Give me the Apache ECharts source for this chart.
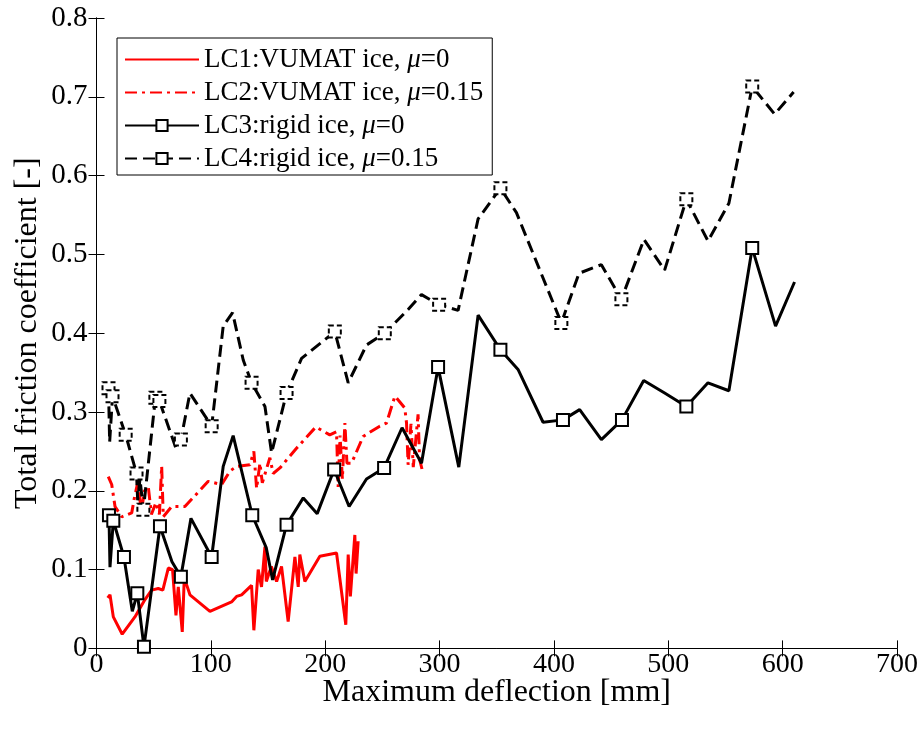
<!DOCTYPE html>
<html>
<head>
<meta charset="utf-8">
<script src="https://cdn.jsdelivr.net/npm/echarts@6/dist/echarts.min.js"></script>
<style>
html,body{margin:0;padding:0;background:#fff;}
#chart{width:921px;height:737px;}
</style>
</head>
<body>
<div id="chart"></div>
<script>
// ---- data ----
const seriesNames = ['LC1:VUMAT ice, μ=0', 'LC2:VUMAT ice, μ=0.15', 'LC3:rigid ice, μ=0', 'LC4:rigid ice, μ=0.15'];
const xTicks = [0, 100, 200, 300, 400, 500, 600, 700];
const yTicks = [0, 0.1, 0.2, 0.3, 0.4, 0.5, 0.6, 0.7, 0.8];

const lc1 = [[9.8,0.064],[11.8,0.068],[14.7,0.040],[22.5,0.018],[33.6,0.040],[42.4,0.062],[48.2,0.074],[54,0.076],[58,0.074],[62.8,0.102],[66.5,0.100],[69.5,0.042],[71.5,0.078],[75,0.021],[76.7,0.087],[79,0.080],[81.7,0.068],[99.2,0.047],[118.1,0.059],[122.5,0.066],[126.9,0.068],[135.6,0.080],[137.6,0.023],[141.4,0.100],[144.3,0.078],[147.3,0.129],[148.5,0.085],[152.9,0.104],[157.5,0.085],[161.8,0.104],[167.6,0.034],[173.5,0.116],[176.4,0.078],[177.8,0.119],[182.2,0.085],[195.3,0.117],[209.9,0.121],[218,0.030],[220.1,0.119],[222,0.066],[225.9,0.144],[227,0.095],[228.8,0.136]];

const lc2 = [[10.3,0.218],[13.3,0.208],[16.2,0.180],[22,0.167],[30.8,0.172],[33,0.190],[36.6,0.214],[39,0.172],[42,0.200],[45.3,0.205],[48,0.170],[52,0.185],[55,0.170],[57,0.231],[58.4,0.167],[65.7,0.180],[77.3,0.180],[97.7,0.212],[109.4,0.208],[116.7,0.225],[122.5,0.231],[134.1,0.233],[137.6,0.250],[140,0.203],[142.9,0.235],[145,0.210],[151.6,0.242],[154.5,0.222],[160.4,0.229],[174.9,0.254],[191.8,0.281],[204,0.271],[209.9,0.275],[211.3,0.205],[213,0.270],[215,0.215],[217.2,0.286],[219,0.235],[223,0.235],[233.2,0.269],[247.7,0.282],[253.6,0.286],[260.9,0.320],[264,0.315],[269.6,0.305],[271.1,0.286],[272.5,0.233],[275,0.285],[277,0.230],[281.2,0.297],[282.5,0.240],[285.6,0.222]];

const lc3 = [[10.9,0.169],[11.8,0.103],[14.7,0.162],[24,0.116],[31.3,0.047],[35.7,0.070],[41.5,0.002],[55.5,0.155],[66,0.110],[73.8,0.091],[82.6,0.165],[100.7,0.116],[110.8,0.231],[119.5,0.270],[136.2,0.169],[148.4,0.128],[154,0.087],[166.2,0.157],[180.8,0.191],[193,0.171],[207.8,0.227],[220.9,0.180],[236.1,0.215],[251.5,0.229],[267.2,0.280],[284.2,0.235],[298.7,0.357],[316.8,0.230],[333.7,0.423],[353.2,0.379],[368.6,0.354],[390.5,0.287],[407.9,0.290],[422.5,0.303],[441.5,0.265],[459.5,0.290],[478.5,0.340],[496.8,0.324],[515.8,0.307],[534.7,0.337],[553,0.327],[573.4,0.508],[593.8,0.409],[610.4,0.465]];
const lc3Marks = [0,2,3,5,6,7,9,11,14,17,20,23,26,29,32,35,38,41];

const lc4 = [[10.5,0.330],[11.5,0.262],[14,0.320],[25.5,0.271],[35,0.222],[36,0.188],[38,0.215],[41,0.176],[51.5,0.318],[55,0.314],[69.5,0.254],[73.8,0.265],[81.7,0.324],[100.7,0.282],[110.8,0.409],[119,0.426],[128.3,0.366],[135.6,0.337],[147.3,0.307],[153.1,0.248],[166.2,0.324],[179.3,0.368],[208.4,0.402],[220.1,0.337],[236.1,0.385],[252.1,0.400],[272.5,0.430],[284.2,0.449],[299.6,0.436],[316.2,0.429],[333.7,0.545],[353.2,0.584],[367.2,0.553],[406.5,0.413],[421.9,0.476],[441.5,0.487],[459,0.443],[478.7,0.519],[496.8,0.480],[515.8,0.570],[534.7,0.517],[553,0.565],[573.4,0.713],[593,0.678],[609.6,0.706]];
const lc4Marks = [0,2,3,4,7,8,9,11,13,17,20,22,25,28,31,33,36,39,42];

// ---- chart ----
const FONT = '"Liberation Serif", "Times New Roman", serif';
function withMarks(pts, marks) {
  return pts.map((p, i) => marks.indexOf(i) >= 0 ? {value: p} : {value: p, symbol: 'none'});
}
const chart = echarts.init(document.getElementById('chart'), null, {renderer: 'canvas'});
const axisCommon = {
  axisLine: {show: true, lineStyle: {color: '#000', width: 1}},
  axisTick: {show: true, inside: true, length: 8, lineStyle: {color: '#000', width: 1}},
  splitLine: {show: false}
};
const LW = 3;
const option = {
  backgroundColor: '#fff',
  animation: false,
  grid: {left: 96.5, right: 23.5, top: 18, bottom: 88.6, containLabel: false},
  legend: {
    orient: 'vertical', left: 117, top: 38,
    data: [
      {name: seriesNames[0], itemStyle: {opacity: 0}},
      {name: seriesNames[1], itemStyle: {opacity: 0}},
      {name: seriesNames[2]},
      {name: seriesNames[3]}
    ],
    backgroundColor: '#fff', borderColor: '#000', borderWidth: 1,
    padding: [8, 9, 3, 7],
    itemWidth: 74, itemHeight: 14, itemGap: 6,
    textStyle: {fontFamily: FONT, fontSize: 27, color: '#000', lineHeight: 22,
      rich: {i: {fontFamily: FONT, fontSize: 27, fontStyle: 'italic', color: '#000', lineHeight: 22}}},
    formatter: n => n.replace('μ', '{i|μ}')
  },
  xAxis: [
    Object.assign({type: 'value', min: 0, max: 700, interval: 100, position: 'bottom',
      name: 'Maximum deflection [mm]', nameLocation: 'middle', nameGap: 28, nameMoveOverlap: false,
      nameTextStyle: {fontFamily: FONT, fontSize: 32, color: '#000'},
      axisLabel: {fontFamily: FONT, fontSize: 28, color: '#000', margin: 2,
        formatter: v => xTicks.indexOf(v) >= 0 ? String(v) : ''}}, axisCommon),
    Object.assign({type: 'value', min: 0, max: 700, interval: 100, position: 'top',
      axisLabel: {show: false}}, axisCommon)
  ],
  yAxis: [
    Object.assign({type: 'value', min: 0, max: 0.8, interval: 0.1, position: 'left',
      name: 'Total friction coefficient [-]', nameLocation: 'middle', nameGap: 53, nameMoveOverlap: false,
      nameTextStyle: {fontFamily: FONT, fontSize: 32, color: '#000'},
      axisLabel: {fontFamily: FONT, fontSize: 29, color: '#000', margin: 9,
        formatter: v => { const t = yTicks.find(k => Math.abs(k - v) < 1e-6); return t === undefined ? '' : (t === 0 ? '0' : String(+t.toFixed(1))); }}}, axisCommon),
    Object.assign({type: 'value', min: 0, max: 0.8, interval: 0.1, position: 'right',
      axisLabel: {show: false}}, axisCommon)
  ],
  series: [
    {name: seriesNames[0], type: 'line', data: lc1, symbol: 'none', color: '#ff0000',
      lineStyle: {color: '#ff0000', width: LW, type: 'solid'}},
    {name: seriesNames[1], type: 'line', data: lc2, symbol: 'none', color: '#ff0000',
      lineStyle: {color: '#ff0000', width: LW, type: [12, 5, 3, 5]}},
    {name: seriesNames[2], type: 'line', data: withMarks(lc3, lc3Marks), symbol: 'emptyRect', symbolSize: 12,
      showAllSymbol: true, color: '#000',
      itemStyle: {color: '#000', borderColor: '#000', borderWidth: 3},
      lineStyle: {color: '#000', width: LW, type: 'solid'}},
    {name: seriesNames[3], type: 'line', data: withMarks(lc4, lc4Marks), symbol: 'emptyRect', symbolSize: 12,
      showAllSymbol: true, color: '#000',
      itemStyle: {color: '#000', borderColor: '#000', borderWidth: 3, borderType: [5, 3]},
      lineStyle: {color: '#000', width: LW, type: [12, 6]}}
  ]
};
chart.setOption(option);
</script>
</body>
</html>
